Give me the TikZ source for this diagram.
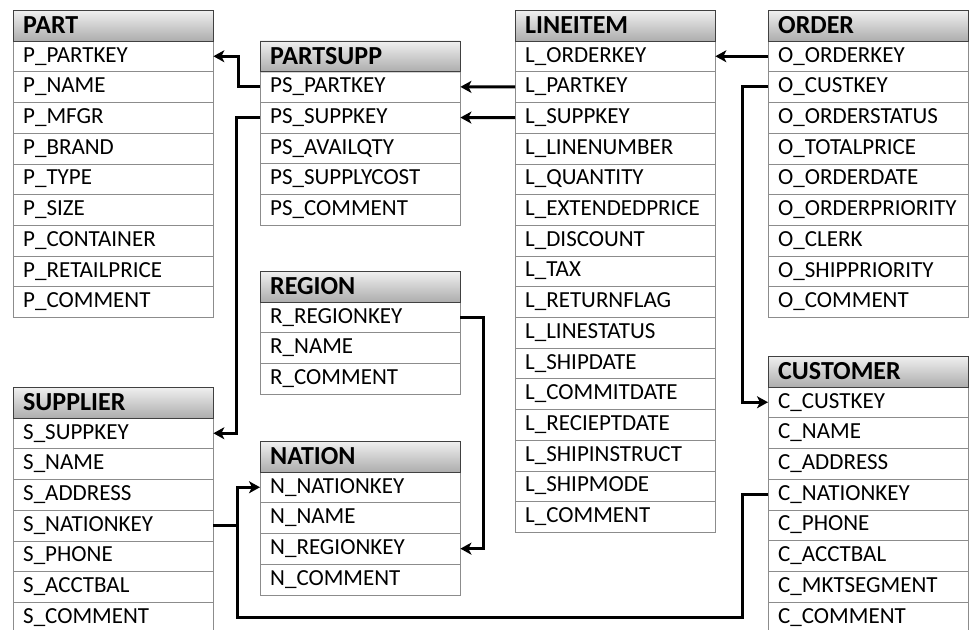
\documentclass[tikz,border=0pt]{standalone}
\usepackage{fontspec}
\setmainfont{Carlito}
\usetikzlibrary{arrows.meta,shadows}

\tikzset{
  hdr/.style={draw=black!75, top color=black!6, bottom color=black!32,
    drop shadow={shadow xshift=1pt, shadow yshift=-1.5pt, opacity=0.35},
    minimum width=200pt, minimum height=30.7pt, text width=180pt,
    inner xsep=10pt, inner ysep=0pt, anchor=north west,
    font=\fontsize{26}{27}\selectfont\bfseries},
  fld/.style={draw=black!45, fill=white, minimum width=200pt, minimum height=30.7pt,
    text width=180pt, inner xsep=10pt, inner ysep=0pt, anchor=north west,
    font=\fontsize{23}{24}\selectfont},
  fk/.style={line width=3pt, -{Stealth[length=11pt,width=12pt,inset=3pt]}},
  fkline/.style={line width=3pt}
}

% #1 name, #2 x, #3 top, #4 title, #5 fields
\newcommand\erdtable[5]{%
  \foreach \f [count=\i] in {#5}
    \node[fld] (#1-\i) at (#2,{#3+\i*30.7}) {\f};
  \node[hdr] (#1) at (#2,#3) {#4};
}

\begin{document}
\begin{tikzpicture}[x=1pt,y=-1pt]
        \useasboundingbox[fill=white] (0,0) rectangle (974,629);

        \erdtable{part}{13}{10}{PART}{P\_PARTKEY, P\_NAME, P\_MFGR, P\_BRAND, P\_TYPE,
                P\_SIZE, P\_CONTAINER, P\_RETAILPRICE, P\_COMMENT}
        \erdtable{partsupp}{260}{40.6}{PARTSUPP}{PS\_PARTKEY, PS\_SUPPKEY, PS\_AVAILQTY,
                PS\_SUPPLYCOST, PS\_COMMENT}
        \erdtable{lineitem}{515}{10}{LINEITEM}{L\_ORDERKEY, L\_PARTKEY, L\_SUPPKEY,
                L\_LINENUMBER, L\_QUANTITY, L\_EXTENDEDPRICE, L\_DISCOUNT, L\_TAX,
                L\_RETURNFLAG, L\_LINESTATUS, L\_SHIPDATE, L\_COMMITDATE,
                L\_RECIEPTDATE, L\_SHIPINSTRUCT, L\_SHIPMODE, L\_COMMENT}
        \erdtable{order}{768}{10}{ORDER}{O\_ORDERKEY, O\_CUSTKEY, O\_ORDERSTATUS,
                O\_TOTALPRICE, O\_ORDERDATE, O\_ORDERPRIORITY, O\_CLERK,
                O\_SHIPPRIORITY, O\_COMMENT}
        \erdtable{region}{260}{271}{REGION}{R\_REGIONKEY, R\_NAME, R\_COMMENT}
        \erdtable{supplier}{13}{387}{SUPPLIER}{S\_SUPPKEY, S\_NAME, S\_ADDRESS,
                S\_NATIONKEY, S\_PHONE, S\_ACCTBAL, S\_COMMENT}
        \erdtable{nation}{260}{441}{NATION}{N\_NATIONKEY, N\_NAME, N\_REGIONKEY, N\_COMMENT}
        \erdtable{customer}{768}{356}{CUSTOMER}{C\_CUSTKEY, C\_NAME, C\_ADDRESS,
                C\_NATIONKEY, C\_PHONE, C\_ACCTBAL, C\_MKTSEGMENT, C\_COMMENT}

        % foreign keys
        \draw[fk] (partsupp-1.west) -- ++(-22,0) |- (part-1.east);
        \draw[fk] (partsupp-2.west) -- ++(-24,0) |- (supplier-1.east);
        \draw[fk] (lineitem-2.west) -- (partsupp-1.east);
        \draw[fk] (lineitem-3.west) -- (partsupp-2.east);
        \draw[fk] (order-1.west) -- (lineitem-1.east);
        \draw[fk] (order-2.west) -- ++(-26,0) |- (customer-1.west);
        \draw[fk] (region-1.east) -- ++(23,0) |- (nation-3.east);

        \coordinate (nbus) at (237,617);
        \draw[fk] (customer-4.west) -- ++(-26,0) |- (nbus) |- (nation-1.west);
        \draw[fkline] (supplier-4.east) -- (supplier-4.east -| nbus);
\end{tikzpicture}
\end{document}
